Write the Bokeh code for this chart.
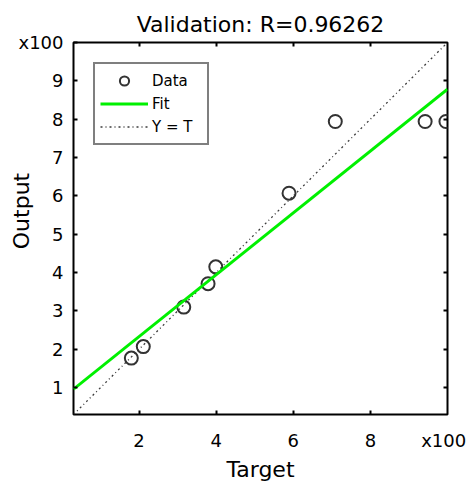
from bokeh.plotting import figure
from bokeh.models import Range1d, LinearAxis, FixedTicker, Legend, LegendItem
from bokeh.embed import file_html
from bokeh.resources import INLINE

# ---- data (actual units; axes show values x100) ----
target = [180, 211, 316, 379, 399, 589, 709, 942, 996]
output = [177, 207, 310, 371, 415, 607, 794, 794, 794]
fit_x = [30, 1000]
fit_y = [96, 878]
ideal_x = [30, 1000]
ideal_y = [30, 1000]
x_ticks = [200, 400, 600, 800]
x_tick_labels = ["2", "4", "6", "8"]
y_ticks = [100, 200, 300, 400, 500, 600, 700, 800, 900]
y_tick_labels = ["1", "2", "3", "4", "5", "6", "7", "8", "9"]
exponent_label = "x100"
x_exponent_pos = 990
y_exponent_pos = 1000
title_text = "Validation: R=0.96262"
x_title = "Target"
y_title = "Output"

FONT = "DejaVu Sans"

p = figure(width=472, height=484, output_backend="svg", toolbar_location=None,
           x_range=Range1d(30, 1000), y_range=Range1d(30, 1000),
           x_axis_location=None, y_axis_location=None,
           min_border_left=73, min_border_right=25, min_border_top=42, min_border_bottom=69)
p.background_fill_color = "white"
p.border_fill_color = "white"
p.outline_line_color = "black"
p.outline_line_width = 2
p.xgrid.visible = False
p.ygrid.visible = False


def tick_axis(ticks):
    ax = LinearAxis(ticker=FixedTicker(ticks=ticks))
    ax.axis_line_color = None
    ax.major_tick_in = 4
    ax.major_tick_out = 0
    ax.major_tick_line_width = 2
    ax.major_tick_line_color = "black"
    ax.minor_tick_line_color = None
    ax.major_label_overrides = {t: "" for t in ticks}
    ax.major_label_text_font_size = "0px"
    ax.major_label_standoff = 0
    return ax


def label_axis(ticks, labels, standoff):
    ax = LinearAxis(ticker=FixedTicker(ticks=ticks))
    ax.axis_line_color = None
    ax.major_tick_in = 0
    ax.major_tick_out = 0
    ax.major_tick_line_color = None
    ax.minor_tick_line_color = None
    ax.major_label_overrides = {t: l for t, l in zip(ticks, labels)}
    ax.major_label_text_font = FONT
    ax.major_label_text_font_size = "18px"
    ax.major_label_text_color = "black"
    ax.major_label_standoff = standoff
    ax.axis_label_text_font = FONT
    ax.axis_label_text_font_size = "22px"
    ax.axis_label_text_font_style = "normal"
    ax.axis_label_text_color = "black"
    return ax


# bottom: tick marks nearest the frame, then the labels (with exponent) below
p.add_layout(tick_axis(x_ticks), "below")
xlab = label_axis(x_ticks + [x_exponent_pos], x_tick_labels + [exponent_label], 15)
xlab.axis_label = x_title
xlab.axis_label_standoff = 3
p.add_layout(xlab, "below")

# left: ticks + labels (exponent at the top end, its tick hidden in the border)
ylab = label_axis(y_ticks + [y_exponent_pos], y_tick_labels + [exponent_label], 10)
ylab.major_tick_in = 4
ylab.major_tick_line_width = 2
ylab.major_tick_line_color = "black"
ylab.axis_label = "\u00a0\u00a0\u00a0\u00a0\u00a0" + y_title
ylab.axis_label_standoff = -19
p.add_layout(ylab, "left")

# top: tick marks, title as the axis caption
top = tick_axis(x_ticks)
top.axis_label = title_text
top.axis_label_standoff = 6
top.axis_label_text_font = FONT
top.axis_label_text_font_size = "22px"
top.axis_label_text_font_style = "normal"
top.axis_label_text_color = "black"
p.add_layout(top, "above")

# right: tick marks only
p.add_layout(tick_axis(y_ticks), "right")

r_ideal = p.line(ideal_x, ideal_y, line_color="#3c3c3c", line_width=1.3, line_dash="2 3 1 3")
r_data = p.scatter(target, output, marker="circle", size=13, fill_color=None,
                   line_color="#333333", line_width=2)
r_fit = p.line(fit_x, fit_y, line_color="#00f000", line_width=3)

legend = Legend(items=[LegendItem(label="Data", renderers=[r_data]),
                       LegendItem(label="Fit", renderers=[r_fit]),
                       LegendItem(label="Y = T", renderers=[r_ideal])],
                location="top_left")
legend.margin = 20
legend.padding = 5
legend.spacing = 0
legend.glyph_width = 48
legend.glyph_height = 23
legend.label_height = 23
legend.label_width = 50
legend.label_standoff = 4
legend.label_text_font = FONT
legend.label_text_font_size = "15px"
legend.label_text_color = "black"
legend.border_line_color = "black"
legend.border_line_width = 2
legend.background_fill_color = "white"
legend.background_fill_alpha = 1
p.add_layout(legend, "center")

open("out.html", "w").write(file_html(p, INLINE))
